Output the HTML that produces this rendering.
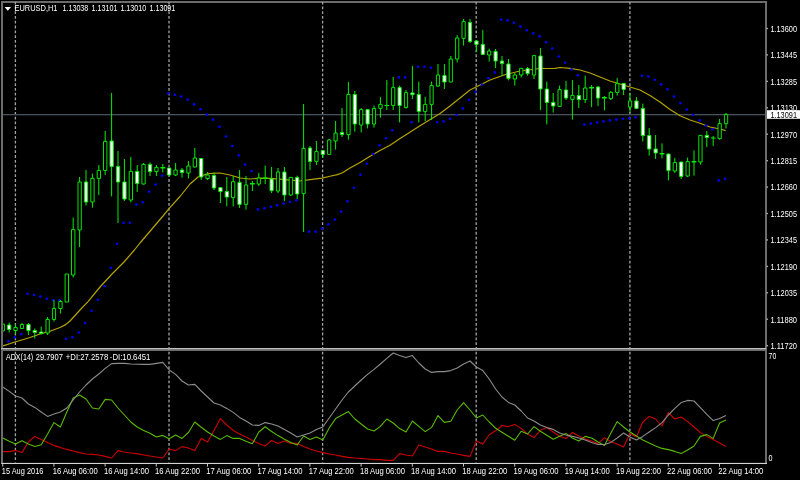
<!DOCTYPE html><html><head><meta charset="utf-8"><title>EURUSD,H1</title><style>html,body{margin:0;padding:0;background:#000;overflow:hidden}</style></head><body><svg width="800" height="480" viewBox="0 0 800 480" style="display:block;font-family:'Liberation Sans',sans-serif">
<rect width="800" height="480" fill="#000"/>
<rect x="1" y="1" width="766" height="2" fill="#6c6c6c"/>
<rect x="1" y="1" width="2" height="463" fill="#6c6c6c"/>
<rect x="765" y="1" width="2" height="463" fill="#6c6c6c"/>
<rect x="1" y="348" width="765" height="1" fill="#c0c0c0"/>
<rect x="1" y="349" width="765" height="1" fill="#7a7a7a"/>
<rect x="1" y="350" width="765" height="1" fill="#6a6a6a"/>
<rect x="1.4" y="462.9" width="765.6" height="1.1" fill="#d4d4d4"/>
<defs><clipPath id="m"><rect x="3" y="3" width="762" height="345"/></clipPath><clipPath id="s"><rect x="3" y="351" width="762" height="111.5"/></clipPath></defs>
<path d="M15.4 2V462.4" stroke="#a4a4a4" stroke-width="1.3" stroke-dasharray="2.8 1.997" stroke-dashoffset="0.4" fill="none"/>
<path d="M169 2V462.4" stroke="#a4a4a4" stroke-width="1.3" stroke-dasharray="2.8 1.997" stroke-dashoffset="0.4" fill="none"/>
<path d="M322.6 2V462.4" stroke="#a4a4a4" stroke-width="1.3" stroke-dasharray="2.8 1.997" stroke-dashoffset="0.4" fill="none"/>
<path d="M476.2 2V462.4" stroke="#a4a4a4" stroke-width="1.3" stroke-dasharray="2.8 1.997" stroke-dashoffset="0.4" fill="none"/>
<path d="M629.9 2V462.4" stroke="#a4a4a4" stroke-width="1.3" stroke-dasharray="2.8 1.997" stroke-dashoffset="0.4" fill="none"/>
<rect x="3" y="114" width="762" height="1" fill="#48505a"/><rect x="3" y="115" width="762" height="1" fill="#15181c"/>
<g clip-path="url(#m)">
<polyline points="3,346 15,342 30,337.5 40,334 50,331.2 60,327.5 66,324.4 70,321 80,310 88,301.6 100,287 112,274 124,262 134.4,250 140,243 163,216 169,208.6 180,196.5 190,184 198,177 208,173.6 220,173 230,175 240,178 250,179 260,178.2 270,178.4 280,179.2 290,180.2 300,181 310,179.6 322,178.2 331,176 337.5,174.6 342.5,172.8 350,168.1 360,162.4 370,156.2 380,150.5 390,145.2 400,138.6 404,136 420,125.8 440,113.6 450,106 460,98 470,90 476,87 490,80 504,75 520,71 540,68.5 555,68.3 560,67.5 570,68.4 580,70 590,73 600,77 610,81 620,84 630,87 640,90 650,95.5 660,102 670,109.5 680,115.8 690,120 700,123.3 710,127 720,129 725.6,130.6" stroke="#b4a400" stroke-width="1.2" fill="none" stroke-linejoin="round"/>
<g fill="#0000ff"><circle cx="8.4" cy="341.2" r="1.28"/><circle cx="14.8" cy="337.4" r="1.28"/><circle cx="21.2" cy="334.2" r="1.28"/><circle cx="27.6" cy="293.8" r="1.28"/><circle cx="34" cy="295" r="1.28"/><circle cx="40.4" cy="296.6" r="1.28"/><circle cx="46.8" cy="298.8" r="1.28"/><circle cx="53.2" cy="300.2" r="1.28"/><circle cx="59.6" cy="300.2" r="1.28"/><circle cx="66" cy="338.7" r="1.28"/><circle cx="72.4" cy="337.4" r="1.28"/><circle cx="78.8" cy="332.5" r="1.28"/><circle cx="85.2" cy="323" r="1.28"/><circle cx="91.6" cy="310.8" r="1.28"/><circle cx="98" cy="299.8" r="1.28"/><circle cx="104.4" cy="286.2" r="1.28"/><circle cx="110.8" cy="267.7" r="1.28"/><circle cx="117.2" cy="243.8" r="1.28"/><circle cx="123.6" cy="222.8" r="1.28"/><circle cx="130" cy="222.8" r="1.28"/><circle cx="136.4" cy="204.6" r="1.28"/><circle cx="142.8" cy="202.2" r="1.28"/><circle cx="149.2" cy="191.6" r="1.28"/><circle cx="155.6" cy="184.6" r="1.28"/><circle cx="162" cy="175.6" r="1.28"/><circle cx="168.4" cy="93.4" r="1.28"/><circle cx="174.8" cy="94.8" r="1.28"/><circle cx="181.2" cy="96.6" r="1.28"/><circle cx="187.6" cy="99.6" r="1.28"/><circle cx="194" cy="104.4" r="1.28"/><circle cx="200.4" cy="109.2" r="1.28"/><circle cx="206.8" cy="114.6" r="1.28"/><circle cx="213.2" cy="119.6" r="1.28"/><circle cx="219.6" cy="126.8" r="1.28"/><circle cx="226" cy="136.5" r="1.28"/><circle cx="232.4" cy="146" r="1.28"/><circle cx="238.8" cy="155.4" r="1.28"/><circle cx="245.2" cy="164.6" r="1.28"/><circle cx="251.6" cy="171" r="1.28"/><circle cx="258" cy="209.4" r="1.28"/><circle cx="264.4" cy="208.4" r="1.28"/><circle cx="270.8" cy="206.8" r="1.28"/><circle cx="277.2" cy="205.2" r="1.28"/><circle cx="283.6" cy="203.6" r="1.28"/><circle cx="290" cy="201.9" r="1.28"/><circle cx="296.4" cy="200.4" r="1.28"/><circle cx="309.2" cy="231.6" r="1.28"/><circle cx="315.6" cy="231.6" r="1.28"/><circle cx="322" cy="228.6" r="1.28"/><circle cx="328.4" cy="224.4" r="1.28"/><circle cx="334.8" cy="219.6" r="1.28"/><circle cx="341.2" cy="211.6" r="1.28"/><circle cx="347.6" cy="201.2" r="1.28"/><circle cx="354" cy="187.7" r="1.28"/><circle cx="360.4" cy="174.7" r="1.28"/><circle cx="366.8" cy="163.8" r="1.28"/><circle cx="373.2" cy="154" r="1.28"/><circle cx="379.6" cy="145.4" r="1.28"/><circle cx="386" cy="138.2" r="1.28"/><circle cx="392.4" cy="130.2" r="1.28"/><circle cx="398.8" cy="77.4" r="1.28"/><circle cx="405.2" cy="77.4" r="1.28"/><circle cx="411.6" cy="122.2" r="1.28"/><circle cx="418" cy="66.8" r="1.28"/><circle cx="424.4" cy="66.8" r="1.28"/><circle cx="430.8" cy="67.8" r="1.28"/><circle cx="437.2" cy="122.2" r="1.28"/><circle cx="443.6" cy="121.4" r="1.28"/><circle cx="450" cy="118.8" r="1.28"/><circle cx="456.4" cy="115" r="1.28"/><circle cx="462.8" cy="108.4" r="1.28"/><circle cx="469.2" cy="99.8" r="1.28"/><circle cx="475.6" cy="91.8" r="1.28"/><circle cx="482" cy="84.6" r="1.28"/><circle cx="488.4" cy="78.2" r="1.28"/><circle cx="494.8" cy="72.4" r="1.28"/><circle cx="501.2" cy="19.6" r="1.28"/><circle cx="507.6" cy="20.4" r="1.28"/><circle cx="514" cy="22.8" r="1.28"/><circle cx="520.4" cy="26.6" r="1.28"/><circle cx="526.8" cy="30.2" r="1.28"/><circle cx="533.2" cy="33.2" r="1.28"/><circle cx="539.6" cy="36.4" r="1.28"/><circle cx="546" cy="42.2" r="1.28"/><circle cx="552.4" cy="48.5" r="1.28"/><circle cx="558.8" cy="56.5" r="1.28"/><circle cx="565.2" cy="62.8" r="1.28"/><circle cx="571.6" cy="69.4" r="1.28"/><circle cx="578" cy="75.2" r="1.28"/><circle cx="584.4" cy="124.6" r="1.28"/><circle cx="590.8" cy="123.6" r="1.28"/><circle cx="597.2" cy="122.6" r="1.28"/><circle cx="603.6" cy="121.2" r="1.28"/><circle cx="610" cy="120.4" r="1.28"/><circle cx="616.4" cy="119.6" r="1.28"/><circle cx="622.8" cy="118.8" r="1.28"/><circle cx="629.2" cy="118.2" r="1.28"/><circle cx="635.6" cy="117.2" r="1.28"/><circle cx="642" cy="75.8" r="1.28"/><circle cx="648.4" cy="76.6" r="1.28"/><circle cx="654.8" cy="79.8" r="1.28"/><circle cx="661.2" cy="84.4" r="1.28"/><circle cx="667.6" cy="89.2" r="1.28"/><circle cx="674" cy="96.6" r="1.28"/><circle cx="680.4" cy="103.1" r="1.28"/><circle cx="686.8" cy="109.5" r="1.28"/><circle cx="693.2" cy="114.7" r="1.28"/><circle cx="699.6" cy="120.3" r="1.28"/><circle cx="706" cy="125.6" r="1.28"/><circle cx="712.4" cy="129.4" r="1.28"/><circle cx="718.8" cy="180.4" r="1.28"/><circle cx="725.2" cy="178.8" r="1.28"/></g>
<path d="M9.2 322.5V332.5M15.6 324V327.5M15.6 330.5V334M22 322.8V324.5M28.4 323V335M34.8 328.5V338.5M41.2 326.5V334.5M47.6 317V319.5M47.6 333V335M54 300V308.5M54 319.5V321.5M60.4 300V301.5M60.4 308.5V313.5M73.2 217.6V229.6M73.2 275V277.5M79.6 177V182M79.6 230V247M86 170V205.6M92.4 173.6V178.4M92.4 202V207.6M98.8 165V170.4M98.8 178.4V195M105.2 131V141.4M105.2 170.4V175M111.6 93V196.4M118 151V223M124.4 159V201M130.8 157V171.4M130.8 200V202.4M137.2 165V192M143.6 163V164.4M143.6 184V184.5M150 162.4V176M156.4 165V167.4M156.4 171.6V176M162.8 164V172.4M169.2 168V176.4M175.6 163V170M175.6 175V176M182 168V177.6M188.4 161V166M188.4 173V178.4M194.8 148V158M194.8 167V167.6M201.2 158V180M207.6 172V175M207.6 178.5V180M214 172.4V190M220.4 187V203M226.8 177V206.4M233.2 176V181.6M233.2 197.6V206.4M239.6 170V208M246 176V185M246 204.4V209.6M252.4 181V191M258.8 173V178M258.8 184V186M265.2 165.6V184M271.6 167V193M278 168V172M278 191V193M284.4 167V201M290.8 177V177.4M290.8 195V196M297.2 175.6V199M303.6 104V148.4M303.6 193.6V232M310 146V170M316.4 141V151.6M316.4 161.4V165M322.8 150V158M329.2 139V140M329.2 154.4V155M335.6 121V133M335.6 141V149.6M342 108V137M348.4 82V94.4M348.4 134.6V139.6M354.8 91V131.6M361.2 108V109.6M361.2 125V132.4M367.6 109V128.4M374 105.6V108.4M374 124V127.6M380.4 97V104.4M380.4 108.4V117.6M386.8 80V110M393.2 77V87.6M393.2 105.4V110M399.6 85.6V122.4M406 90V92.6M406 107.5V108.6M412.4 66V99M418.8 81.6V122.4M425.2 97V104.4M425.2 111.6V121M431.6 81.6V85.6M431.6 104.4V120M438 64V75M438 86V87M444.4 64V89M450.8 56V59M450.8 82V82.4M457.2 35V38M457.2 59V62.4M463.6 19V21.6M463.6 38.4V45.6M470 19V43M476.4 40V52M482.8 30V55M489.2 48.6V51M489.2 55V61.6M495.6 49V68M502 56V75.6M508.4 59V80.4M514.8 73V75M514.8 79V85.6M521.2 68V68.4M521.2 75V77.6M527.6 67V75.6M534 55V55.6M534 75V79M540.4 48V110M546.8 81.6V124.4M553.2 93V112.6M559.6 85.6V89.6M559.6 106.4V107M566 81V100M572.4 80V95.4M572.4 99.4V119.6M578.8 85V108M585.2 75.6V88M585.2 99.6V103M591.6 85V107M598 86V106M604.4 96V110.4M610.8 91V92.4M610.8 98.6V100M617.2 78V83.6M617.2 92.4V95.6M623.6 83V95M630 93V101M630 107V113M636.4 97V109M642.8 103.6V141.6M649.2 128V155.6M655.6 135V159M662 143.4V158.4M668.4 153.6V180.4M674.8 158V162.6M674.8 171V173M681.2 161.6V179M687.6 157.6V161.6M687.6 176V177M694 150.4V175.6M700.4 135V135.4M700.4 162V164.6M706.8 131V147M713.2 136V146M719.6 119V123.6M719.6 138.6V139.6M726 113V114.4M726 123.6V128.4" stroke="#00f000" stroke-width="1" fill="none"/>
<path d="M160.4 167H165.2V168.6H160.4ZM250 183H254.8V184.4H250ZM262.8 177.6H267.6V179H262.8ZM384.4 105H389.2V106H384.4ZM589.2 87H594V88.6H589.2ZM602 97H606.8V98.4H602ZM659.6 153H664.4V154.4H659.6ZM691.6 161H696.4V162.4H691.6ZM710.8 137.4H715.6V138.6H710.8Z" fill="#00f000"/>
<path d="M1.1 324H4.4V331H1.1ZM13.9 327.5H17.2V330.5H13.9ZM20.4 324.5H23.6V328.5H20.4ZM46 319.5H49.3V333H46ZM52.4 308.5H55.6V319.5H52.4ZM58.8 301.5H62.1V308.5H58.8ZM65.1 274H68.5V302H65.1ZM71.5 229.6H74.9V275H71.5ZM78 182H81.3V230H78ZM90.8 178.4H94.1V202H90.8ZM97.2 170.4H100.5V178.4H97.2ZM103.5 141.4H106.9V170.4H103.5ZM129.2 171.4H132.5V200H129.2ZM141.9 164.4H145.2V184H141.9ZM154.8 167.4H158.1V171.6H154.8ZM173.9 170H177.2V175H173.9ZM186.8 166H190.1V173H186.8ZM193.2 158H196.5V167H193.2ZM205.9 175H209.2V178.5H205.9ZM231.5 181.6H234.8V197.6H231.5ZM244.3 185H247.7V204.4H244.3ZM257.2 178H260.4V184H257.2ZM276.4 172H279.6V191H276.4ZM289.2 177.4H292.4V195H289.2ZM302 148.4H305.2V193.6H302ZM314.8 151.6H318.1V161.4H314.8ZM327.6 140H330.8V154.4H327.6ZM334 133H337.2V141H334ZM346.8 94.4H350.1V134.6H346.8ZM359.6 109.6H362.8V125H359.6ZM372.4 108.4H375.6V124H372.4ZM378.8 104.4H382.1V108.4H378.8ZM391.6 87.6H394.8V105.4H391.6ZM404.4 92.6H407.6V107.5H404.4ZM423.6 104.4H426.8V111.6H423.6ZM430 85.6H433.2V104.4H430ZM436.4 75H439.6V86H436.4ZM449.2 59H452.4V82H449.2ZM455.6 38H458.8V59H455.6ZM462 21.6H465.2V38.4H462ZM487.6 51H490.8V55H487.6ZM513.2 75H516.5V79H513.2ZM519.6 68.4H522.9V75H519.6ZM532.4 55.6H535.7V75H532.4ZM558 89.6H561.2V106.4H558ZM570.8 95.4H574.1V99.4H570.8ZM583.6 88H586.9V99.6H583.6ZM609.2 92.4H612.5V98.6H609.2ZM615.6 83.6H618.9V92.4H615.6ZM628.4 101H631.7V107H628.4ZM673.2 162.6H676.5V171H673.2ZM686 161.6H689.3V176H686ZM698.8 135.4H702.1V162H698.8ZM718 123.6H721.3V138.6H718ZM724.4 114.4H727.7V123.6H724.4Z" stroke="#00f000" stroke-width="0.95" fill="#000"/>
<path d="M7.5 325H10.8V329.5H7.5ZM26.8 324.5H30.1V330.5H26.8ZM33.1 330.5H36.4V332.5H33.1ZM39.6 332H42.9V333.5H39.6ZM84.4 182H87.7V202H84.4ZM110 141H113.3V166.4H110ZM116.4 166.4H119.7V182H116.4ZM122.8 182H126.1V199H122.8ZM135.5 171.4H138.8V183.6H135.5ZM148.3 164.4H151.7V171.6H148.3ZM167.5 168H170.8V175H167.5ZM180.3 170H183.7V172.4H180.3ZM199.5 158.5H202.8V177H199.5ZM212.3 175.6H215.7V188H212.3ZM218.8 187.6H222.1V191.6H218.8ZM225.2 191.6H228.5V197H225.2ZM237.9 182.4H241.2V204.4H237.9ZM270 179H273.2V190.6H270ZM282.8 172H286V195H282.8ZM295.6 177.4H298.8V194H295.6ZM308.4 148H311.6V161.4H308.4ZM321.2 150.6H324.4V154.4H321.2ZM340.4 132.5H343.6V134.6H340.4ZM353.2 94.4H356.4V124H353.2ZM366 109.6H369.2V124H366ZM398 87.6H401.2V105.6H398ZM410.8 92.9H414.1V94.7H410.8ZM417.2 94.4H420.4V111.4H417.2ZM442.8 75.6H446.1V82H442.8ZM468.4 22.4H471.6V41.4H468.4ZM474.8 41H478.1V44.4H474.8ZM481.2 44.4H484.4V54.4H481.2ZM494 51.4H497.2V61H494ZM500.4 61H503.6V63.6H500.4ZM506.8 64H510.1V78.4H506.8ZM526 68.6H529.2V73.6H526ZM538.8 56H542.1V89H538.8ZM545.2 89H548.5V102.4H545.2ZM551.6 102.4H554.9V106H551.6ZM564.4 90H567.7V98H564.4ZM577.2 95.6H580.5V99.6H577.2ZM596.4 87H599.7V98H596.4ZM622 83.4H625.3V89.4H622ZM634.8 101H638.1V108.4H634.8ZM641.2 108.4H644.5V135.6H641.2ZM647.6 135.6H650.9V149H647.6ZM654 149H657.3V153H654ZM666.8 154H670.1V170.6H666.8ZM679.6 162H682.9V176.4H679.6ZM705.2 135.4H708.5V137.4H705.2Z" stroke="#00f000" stroke-width="0.95" fill="#fff"/>
</g>
<g clip-path="url(#s)" fill="none" stroke-width="1.1" stroke-linejoin="round">
<polyline points="2.8,451.6 9.2,451.6 15.6,450.4 22,452.4 28.4,442 34.8,436.4 41.2,439.6 47.6,442.6 54,445.6 60.4,447.4 66.8,449.4 73.2,451 79.6,452.6 86,454 92.4,454.4 98.8,455 105.2,456.4 111.6,458 118,450.6 124.4,452 130.8,453 137.2,453.6 143.6,455 150,456 156.4,457 162.8,458 169.2,449 175.6,450.6 182,446.6 188.4,448 194.8,450.6 201.2,438.4 207.6,442 214,430.4 220.4,418.6 226.8,425 233.2,430.4 239.6,434 246,437 252.4,440.4 258.8,443.4 265.2,446 271.6,440.4 278,443.4 284.4,441 290.8,443.4 297.2,443.4 303.6,446.4 310,449 316.4,451 322.8,452.6 329.2,454 335.6,455 342,456.4 348.4,457.4 354.8,458 361.2,458.4 367.6,459 374,459.6 380.4,459.6 386.8,460.4 393.2,460.4 399.6,453.6 406,455 412.4,456 418.8,445 425.2,447 431.6,449 438,451.4 444.4,451.4 450.8,453 457.2,454 463.6,455.4 470,456.4 476.4,441 482.8,444 489.2,434.8 495.6,430.8 502,425.5 508.4,426.6 514.8,424.4 521.2,428.4 527.6,434 534,437.6 540.4,430.2 546.8,427.6 553.2,432 559.6,436.2 566,438.6 572.4,432.4 578.8,436 585.2,439 591.6,441 598,443.4 604.4,437.8 610.8,441.8 617.2,444 623.6,447 630,433.4 636.4,437 642.8,422 649.2,416.4 655.6,419 662,426 668.4,412.6 674.8,419 681.2,417 687.6,421.6 694,427 700.4,432.6 706.8,436.4 713.2,439.6 719.6,443 726,446.4" stroke="#cc0000"/>
<polyline points="2.8,438 9.2,441.2 15.6,444 22,440.8 28.4,444 34.8,446.5 41.2,444.8 47.6,434 54,422.6 60.4,427 66.8,412 73.2,398 79.6,395 86,399 92.4,408 98.8,409 105.2,399.4 111.6,400 118,408 124.4,415 130.8,422 137.2,427 143.6,430.4 150,433.2 156.4,437 162.8,435.4 169.2,438.8 175.6,435 182,438.4 188.4,432.5 194.8,422 201.2,427.2 207.6,432 214,436 220.4,439.4 226.8,435.6 233.2,438.4 239.6,438.4 246,441.2 252.4,443.8 258.8,432 265.2,426.8 271.6,431.5 278,435.6 284.4,439.2 290.8,442.5 297.2,445 303.6,436 310,439.6 316.4,437 322.8,440 329.2,428 335.6,418.6 342,415 348.4,411.6 354.8,419 361.2,424 367.6,429 374,431 380.4,426.4 386.8,419 393.2,423 399.6,428.6 406,432 412.4,421 418.8,426.4 425.2,431.6 431.6,427.4 438,415.6 444.4,422.4 450.8,421.2 457.2,410 463.6,402.6 470,410 476.4,418 482.8,415 489.2,422 495.6,428.2 502,432.3 508.4,436.2 514.8,440.2 521.2,431.2 527.6,434 534,426.6 540.4,431.2 546.8,435.2 553.2,439.2 559.6,436.2 566,433.6 572.4,438 578.8,441 585.2,436.4 591.6,438 598,442 604.4,445.4 610.8,433.2 617.2,421.6 623.6,427 630,432 636.4,436 642.8,440 649.2,443 655.6,446 662,448.4 668.4,449.6 674.8,451.4 681.2,453.4 687.6,450 694,446 700.4,436.4 706.8,434.6 713.2,438.4 719.6,423 726,420" stroke="#5aba00"/>
<polyline points="2.8,387 9.2,391.4 15.6,396 22,398 28.4,404 34.8,407.4 41.2,412 47.6,416.4 54,414 60.4,412 66.8,408 73.2,400 79.6,392 86,385 92.4,379 98.8,374 105.2,368.4 111.6,363.6 118,363.4 124.4,363.4 130.8,364 137.2,364.3 143.6,364.4 150,364.4 156.4,363.4 162.8,362.4 169.2,370 175.6,374.4 182,381 188.4,385 194.8,384.4 201.2,391 207.6,397 214,403 220.4,405 226.8,408.4 233.2,412.4 239.6,417.4 246,421 252.4,425 258.8,425.4 265.2,422.6 271.6,424 278,426 284.4,429.4 290.8,433 297.2,437 303.6,435 310,433 316.4,429.6 322.8,427 329.2,418 335.6,409 342,400 348.4,392 354.8,386 361.2,380 367.6,374.4 374,369.4 380.4,364 386.8,358.4 393.2,353 399.6,355.4 406,357.6 412.4,355.6 418.8,363 425.2,369 431.6,372.4 438,371.6 444.4,371.6 450.8,370.6 457.2,368 463.6,364 470,361 476.4,367 482.8,370.6 489.2,379 495.6,389 502,397 508.4,402.4 514.8,405 521.2,411 527.6,418 534,421 540.4,425 546.8,427.6 553.2,429.4 559.6,433 566,435 572.4,436.4 578.8,438 585.2,440 591.6,442.4 598,444.5 604.4,444.5 610.8,442.4 617.2,438 623.6,433 630,437 636.4,440 642.8,436.4 649.2,432 655.6,427.6 662,422.6 668.4,415 674.8,408.4 681.2,402.6 687.6,400.4 694,401 700.4,407.6 706.8,414.4 713.2,420.6 719.6,418.4 726,415.4" stroke="#8c8c8c"/>
</g>
<g fill="#fff" font-size="8.5px">
<rect x="766.6" y="27.8" width="1.2" height="1.4" fill="#ccc"/>
<text x="770.4" y="31.8" textLength="26.6" lengthAdjust="spacingAndGlyphs">1.13600</text>
<rect x="766.6" y="54.2" width="1.2" height="1.4" fill="#ccc"/>
<text x="770.4" y="58.2" textLength="26.6" lengthAdjust="spacingAndGlyphs">1.13445</text>
<rect x="766.6" y="80.7" width="1.2" height="1.4" fill="#ccc"/>
<text x="770.4" y="84.7" textLength="26.6" lengthAdjust="spacingAndGlyphs">1.13285</text>
<rect x="766.6" y="107.1" width="1.2" height="1.4" fill="#ccc"/>
<text x="770.4" y="111.1" textLength="26.6" lengthAdjust="spacingAndGlyphs">1.13130</text>
<rect x="766.6" y="133.5" width="1.2" height="1.4" fill="#ccc"/>
<text x="770.4" y="137.5" textLength="26.6" lengthAdjust="spacingAndGlyphs">1.12970</text>
<rect x="766.6" y="160" width="1.2" height="1.4" fill="#ccc"/>
<text x="770.4" y="164" textLength="26.6" lengthAdjust="spacingAndGlyphs">1.12815</text>
<rect x="766.6" y="186.4" width="1.2" height="1.4" fill="#ccc"/>
<text x="770.4" y="190.4" textLength="26.6" lengthAdjust="spacingAndGlyphs">1.12660</text>
<rect x="766.6" y="212.8" width="1.2" height="1.4" fill="#ccc"/>
<text x="770.4" y="216.8" textLength="26.6" lengthAdjust="spacingAndGlyphs">1.12505</text>
<rect x="766.6" y="239.2" width="1.2" height="1.4" fill="#ccc"/>
<text x="770.4" y="243.2" textLength="26.6" lengthAdjust="spacingAndGlyphs">1.12345</text>
<rect x="766.6" y="265.7" width="1.2" height="1.4" fill="#ccc"/>
<text x="770.4" y="269.7" textLength="26.6" lengthAdjust="spacingAndGlyphs">1.12190</text>
<rect x="766.6" y="292.1" width="1.2" height="1.4" fill="#ccc"/>
<text x="770.4" y="296.1" textLength="26.6" lengthAdjust="spacingAndGlyphs">1.12035</text>
<rect x="766.6" y="318.5" width="1.2" height="1.4" fill="#ccc"/>
<text x="770.4" y="322.5" textLength="26.6" lengthAdjust="spacingAndGlyphs">1.11880</text>
<rect x="766.6" y="345" width="1.2" height="1.4" fill="#ccc"/>
<text x="770.4" y="349" textLength="26.6" lengthAdjust="spacingAndGlyphs">1.11720</text>
<text x="768.6" y="359.1" textLength="7.6" lengthAdjust="spacingAndGlyphs">70</text><text x="768.6" y="461.2" textLength="4" lengthAdjust="spacingAndGlyphs">0</text>
<path d="M4.6 7H11L7.8 10.8Z" fill="#fff"/>
<text x="14.5" y="11.4" textLength="43" lengthAdjust="spacingAndGlyphs">EURUSD,H1</text>
<text x="62.5" y="11.4" textLength="25.8" lengthAdjust="spacingAndGlyphs">1.13038</text>
<text x="91.6" y="11.4" textLength="25.8" lengthAdjust="spacingAndGlyphs">1.13101</text>
<text x="120.4" y="11.4" textLength="25.8" lengthAdjust="spacingAndGlyphs">1.13010</text>
<text x="149.5" y="11.4" textLength="25.8" lengthAdjust="spacingAndGlyphs">1.13091</text>
<text x="6" y="360.1" textLength="27.2" lengthAdjust="spacingAndGlyphs">ADX(14)</text><text x="35.8" y="360.1" textLength="27" lengthAdjust="spacingAndGlyphs">29.7907</text><text x="65.8" y="360.1" textLength="42.4" lengthAdjust="spacingAndGlyphs">+DI:27.2578</text><text x="109.8" y="360.1" textLength="40.6" lengthAdjust="spacingAndGlyphs">-DI:10.6451</text>
<rect x="2.2" y="464" width="1" height="2.6" fill="#c4c4c4"/>
<text x="1.8" y="474.3" textLength="41.6" lengthAdjust="spacingAndGlyphs">15 Aug 2016</text>
<rect x="53.4" y="464" width="1" height="2.6" fill="#c4c4c4"/>
<text x="52.7" y="474.3" textLength="45" lengthAdjust="spacingAndGlyphs">16 Aug 06:00</text>
<rect x="104.6" y="464" width="1" height="2.6" fill="#c4c4c4"/>
<text x="103.9" y="474.3" textLength="45" lengthAdjust="spacingAndGlyphs">16 Aug 14:00</text>
<rect x="155.8" y="464" width="1" height="2.6" fill="#c4c4c4"/>
<text x="155.1" y="474.3" textLength="45" lengthAdjust="spacingAndGlyphs">16 Aug 22:00</text>
<rect x="207" y="464" width="1" height="2.6" fill="#c4c4c4"/>
<text x="206.3" y="474.3" textLength="45" lengthAdjust="spacingAndGlyphs">17 Aug 06:00</text>
<rect x="258.2" y="464" width="1" height="2.6" fill="#c4c4c4"/>
<text x="257.5" y="474.3" textLength="45" lengthAdjust="spacingAndGlyphs">17 Aug 14:00</text>
<rect x="309.4" y="464" width="1" height="2.6" fill="#c4c4c4"/>
<text x="308.7" y="474.3" textLength="45" lengthAdjust="spacingAndGlyphs">17 Aug 22:00</text>
<rect x="360.6" y="464" width="1" height="2.6" fill="#c4c4c4"/>
<text x="359.9" y="474.3" textLength="45" lengthAdjust="spacingAndGlyphs">18 Aug 06:00</text>
<rect x="411.8" y="464" width="1" height="2.6" fill="#c4c4c4"/>
<text x="411.1" y="474.3" textLength="45" lengthAdjust="spacingAndGlyphs">18 Aug 14:00</text>
<rect x="463" y="464" width="1" height="2.6" fill="#c4c4c4"/>
<text x="462.3" y="474.3" textLength="45" lengthAdjust="spacingAndGlyphs">18 Aug 22:00</text>
<rect x="514.2" y="464" width="1" height="2.6" fill="#c4c4c4"/>
<text x="513.5" y="474.3" textLength="45" lengthAdjust="spacingAndGlyphs">19 Aug 06:00</text>
<rect x="565.4" y="464" width="1" height="2.6" fill="#c4c4c4"/>
<text x="564.7" y="474.3" textLength="45" lengthAdjust="spacingAndGlyphs">19 Aug 14:00</text>
<rect x="616.6" y="464" width="1" height="2.6" fill="#c4c4c4"/>
<text x="615.9" y="474.3" textLength="45" lengthAdjust="spacingAndGlyphs">19 Aug 22:00</text>
<rect x="667.8" y="464" width="1" height="2.6" fill="#c4c4c4"/>
<text x="667.1" y="474.3" textLength="45" lengthAdjust="spacingAndGlyphs">22 Aug 06:00</text>
<rect x="719" y="464" width="1" height="2.6" fill="#c4c4c4"/>
<text x="718.3" y="474.3" textLength="45" lengthAdjust="spacingAndGlyphs">22 Aug 14:00</text>
</g>
<rect x="767" y="110.2" width="33" height="8.6" fill="#fff"/>
<text x="770.4" y="118" textLength="26.6" lengthAdjust="spacingAndGlyphs" font-size="8.5px" fill="#000">1.13091</text>
</svg></body></html>
